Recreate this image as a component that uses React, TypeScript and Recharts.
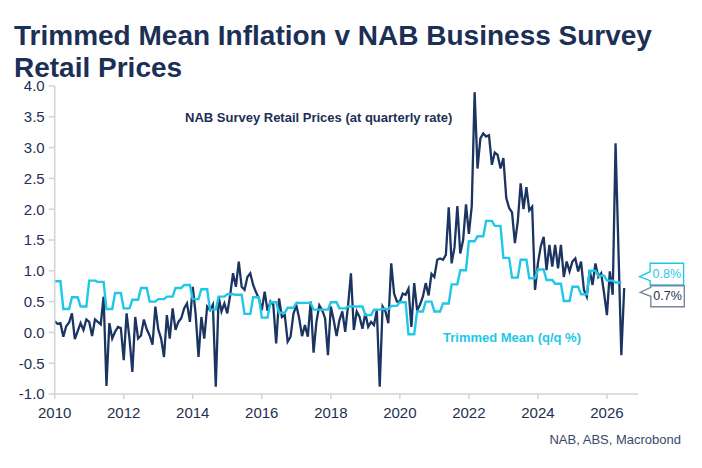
import React from 'react';
import { LineChart, Line, XAxis, YAxis, ReferenceDot } from 'recharts';

// Monthly series starting January 2010
const START_YEAR = 2010;

// NAB Business Survey retail prices (at quarterly rate), monthly
const nabRetailPrices: number[] = [
  // 2010
  0.18, 0.14, 0.15, -0.07, 0.1, 0.16, 0.31, -0.11, 0.02, 0.15, 0.04, 0.21,
  // 2011
  0.17, -0.06, 0.21, 0.17, 0.13, 0.58, -0.87, 0.15, -0.1, 0.01, 0.09, 0.07,
  // 2012
  -0.45, 0.31, -0.1, -0.64, 0.25, -0.1, -0.05, 0.21, 0.05, -0.05, -0.2, 0.42,
  // 2013
  0.05, -0.1, -0.4, 0.28, -0.1, 0.39, 0.04, 0.17, 0.23, 0.39, 0.47, 0.17,
  // 2014
  0.74, 0.3, -0.4, 0.25, -0.1, 0.42, 0.36, 0.45, -0.88, 0.58, 0.34, 0.47,
  // 2015
  0.31, 0.6, 0.96, 0.74, 1.15, 0.74, 0.69, 0.9, 0.96, 0.77, 0.65, 0.55,
  // 2016
  0.36, 0.66, 0.35, 0.5, 0.45, -0.18, 0.55, 0.25, 0.28, -0.15, -0.07, 0.3,
  // 2017
  0.44, 0.23, -0.06, 0.12, -0.07, 0.5, -0.33, 0.17, 0.44, 0.36, 0.23, -0.37,
  // 2018
  0.42, 0.2, -0.06, 0.2, 0.34, 0.01, 0.44, 0.96, 0.04, 0.34, 0.25, 0.06,
  // 2019
  0.31, 0.09, 0.17, 0.12, 0.36, -0.88, 0.42, 0.34, 0.15, 1.12, 0.63, 0.5,
  // 2020
  0.5, 0.63, 0.61, 0.71, 0.09, 0.8, 0.36, 0.45, 0.58, 0.8, 0.6, 0.95,
  // 2021
  0.9, 1.18, 1.2, 1.18, 1.26, 2.03, 1.12, 1.38, 2.05, 1.28, 1.5, 2.08,
  // 2022
  1.6, 2.05, 3.9, 2.66, 3.15, 3.23, 3.18, 3.2, 2.72, 2.92, 2.88, 2.66,
  // 2023
  2.83, 2.18, 2.02, 1.95, 1.45, 1.8, 2.42, 2.0, 2.36, 1.98, 2.04, 0.69,
  // 2024
  1.12, 1.4, 1.55, 1.01, 1.42, 1.07, 1.42, 1.04, 1.42, 0.9, 1.15, 0.99,
  // 2025
  1.15, 1.2, 0.99, 1.15, 0.69, 0.58, 1.01, 0.77, 1.12, 0.9, 0.96, 0.64,
  // 2026
  0.28, 0.99, 0.61, 3.07, 1.35, -0.37, 0.72,
];

// Trimmed mean inflation (q/q %), one value per quarter, shown as monthly steps
const trimmedMeanQuarterly: number[] = [
  0.83, 0.38, 0.57, 0.42, // 2010
  0.84, 0.82, 0.38, 0.64, // 2011
  0.39, 0.53, 0.72, 0.5, // 2012
  0.54, 0.58, 0.72, 0.77, // 2013
  0.54, 0.7, 0.37, 0.58, // 2014
  0.62, 0.61, 0.3, 0.57, // 2015
  0.24, 0.49, 0.32, 0.4, // 2016
  0.48, 0.48, 0.37, 0.37, // 2017
  0.49, 0.39, 0.42, 0.42, // 2018
  0.28, 0.37, 0.38, 0.43, // 2019
  0.49, -0.03, 0.34, 0.5, // 2020
  0.34, 0.47, 0.78, 1.01, // 2021
  1.48, 1.56, 1.81, 1.73, // 2022
  1.21, 0.89, 1.18, 0.88, // 2023
  1.02, 0.85, 0.79, 0.51, // 2024
  0.74, 0.62, 1.0, 0.92, // 2025
  0.84, 0.81, // 2026
];

const titleLines = ['Trimmed Mean Inflation v NAB Business Survey', 'Retail Prices'];
const xTicks = [2010, 2012, 2014, 2016, 2018, 2020, 2022, 2024, 2026];
const yTicks = [-1, -0.5, 0, 0.5, 1, 1.5, 2, 2.5, 3, 3.5, 4];
const X_DOMAIN: [number, number] = [2010, 2026.9];

const NAVY = '#1b3461';
const CYAN = '#1fc8e6';
const TEXT = '#1e2f52';
const AXIS = '#d3d3d3';
const FONT = '"Liberation Sans", Arial, sans-serif';

const data = nabRetailPrices.map((v, i) => ({
  x: START_YEAR + i / 12,
  nab: v,
  tm: i < trimmedMeanQuarterly.length * 3 ? trimmedMeanQuarterly[Math.floor(i / 3)] : null,
}));

const lastNab = nabRetailPrices[nabRetailPrices.length - 1];
const lastTm = trimmedMeanQuarterly[trimmedMeanQuarterly.length - 1];

type CalloutProps = {
  cx?: number;
  cy?: number;
  label: string;
  textColor: string;
  borderColor: string;
  tipDx: number;
  tipDy: number;
  above: number;
  below: number;
};

const Callout = ({ cx = 0, cy = 0, label, textColor, borderColor, tipDx, tipDy, above, below }: CalloutProps) => {
  const tx = cx + tipDx;
  const ty = cy + tipDy;
  const left = tx + 10.5;
  const right = left + 33.5;
  const top = ty - above;
  const bottom = ty + below;
  const notchTop = ty - 5;
  const notchBottom = ty + 4;
  const path = `M${left},${top} H${right} V${bottom} H${left} V${notchBottom} L${tx},${ty} L${left},${notchTop} Z`;
  return (
    <g>
      <path d={path} fill="#ffffff" stroke={borderColor} strokeWidth={1.4} />
      <text
        x={(left + right) / 2}
        y={(top + bottom) / 2}
        textAnchor="middle"
        dominantBaseline="central"
        fill={textColor}
        fontSize={12.5}
        fontFamily={FONT}
      >
        {label}
      </text>
    </g>
  );
};

const titleStyle: React.CSSProperties = {
  position: 'absolute',
  left: 14,
  fontSize: 28,
  lineHeight: '20px',
  height: 20,
  fontWeight: 'bold',
  color: '#1c2f55',
  whiteSpace: 'nowrap',
};

export default function App() {
  return (
    <div style={{ position: 'absolute', left: 0, top: 0, width: 702, height: 468, background: '#ffffff', fontFamily: FONT }}>
      <div style={{ ...titleStyle, top: 25.5 }}>{titleLines[0]}</div>
      <div style={{ ...titleStyle, top: 57.5 }}>{titleLines[1]}</div>

      <LineChart
        width={702}
        height={468}
        data={data}
        margin={{ top: 86, right: 64, bottom: 44, left: 0 }}
      >
        <XAxis
          dataKey="x"
          type="number"
          domain={X_DOMAIN}
          ticks={xTicks}
          interval={0}
          height={30}
          axisLine={{ stroke: AXIS, strokeWidth: 1.5 }}
          tickLine={{ stroke: AXIS, strokeWidth: 1.5 }}
          tickSize={5}
          tickMargin={8}
          tick={{ fill: TEXT, fontSize: 15, fontFamily: FONT }}
        />
        <YAxis
          type="number"
          domain={[-1, 4]}
          ticks={yTicks}
          interval={0}
          width={54.7}
          axisLine={{ stroke: AXIS, strokeWidth: 1.5 }}
          tickLine={{ stroke: AXIS, strokeWidth: 1.5 }}
          tickSize={6}
          tickMargin={4}
          tickFormatter={(v: number) => v.toFixed(1)}
          tick={{ fill: TEXT, fontSize: 15, fontFamily: FONT }}
        />
        <Line
          type="linear"
          dataKey="nab"
          stroke={NAVY}
          strokeWidth={2.3}
          dot={false}
          activeDot={false}
          isAnimationActive={false}
        />
        <Line
          type="linear"
          dataKey="tm"
          stroke={CYAN}
          strokeWidth={2.4}
          dot={false}
          activeDot={false}
          isAnimationActive={false}
        />
        <ReferenceDot
          x={X_DOMAIN[1]}
          y={lastTm}
          ifOverflow="visible"
          shape={(p: any) => (
            <Callout
              cx={p.cx}
              cy={p.cy}
              label={`${lastTm.toFixed(1)}%`}
              textColor={CYAN}
              borderColor={CYAN}
              tipDx={1.6}
              tipDy={-5.8}
              above={13.4}
              below={8.3}
            />
          )}
        />
        <ReferenceDot
          x={X_DOMAIN[1]}
          y={lastNab}
          ifOverflow="visible"
          shape={(p: any) => (
            <Callout
              cx={p.cx}
              cy={p.cy}
              label={`${lastNab.toFixed(1)}%`}
              textColor={TEXT}
              borderColor="#7a869e"
              tipDx={2.3}
              tipDy={4.3}
              above={6.6}
              below={14.4}
            />
          )}
        />
      </LineChart>

      <div
        style={{
          position: 'absolute',
          left: 185,
          top: 110,
          fontSize: 13,
          lineHeight: '16px',
          fontWeight: 'bold',
          color: '#1c2f55',
          whiteSpace: 'nowrap',
        }}
      >
        NAB Survey Retail Prices (at quarterly rate)
      </div>
      <div
        style={{
          position: 'absolute',
          left: 443,
          top: 329.5,
          fontSize: 13,
          lineHeight: '16px',
          fontWeight: 'bold',
          color: CYAN,
          whiteSpace: 'nowrap',
        }}
      >
        Trimmed Mean (q/q %)
      </div>
      <div
        style={{
          position: 'absolute',
          right: 21,
          top: 432,
          fontSize: 13,
          lineHeight: '16px',
          color: '#3a4866',
          whiteSpace: 'nowrap',
        }}
      >
        NAB, ABS, Macrobond
      </div>
    </div>
  );
}
